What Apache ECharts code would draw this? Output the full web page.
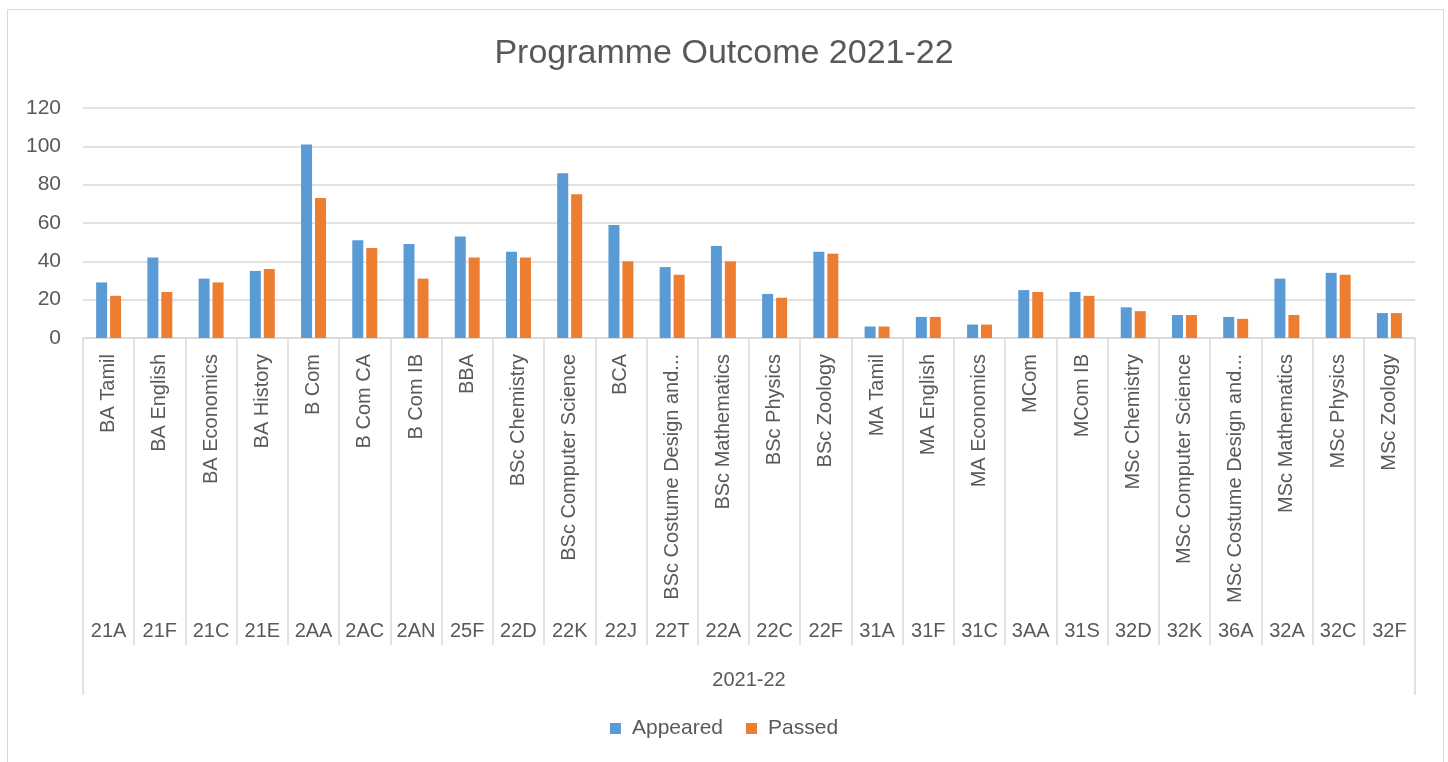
<!DOCTYPE html>
<html>
<head>
<meta charset="utf-8">
<script src="https://cdn.jsdelivr.net/npm/echarts@6/dist/echarts.min.js"></script>
<style>
html,body{margin:0;padding:0;background:#fff;}
#chart{width:1448px;height:762px;}
</style>
</head>
<body>
<div id="chart"></div>
<script>
const programmes = ["BA Tamil","BA English","BA Economics","BA History","B Com","B Com CA","B Com IB","BBA","BSc Chemistry","BSc Computer Science","BCA","BSc Costume Design and Fashion","BSc Mathematics","BSc Physics","BSc Zoology","MA Tamil","MA English","MA Economics","MCom","MCom IB","MSc Chemistry","MSc Computer Science","MSc Costume Design and Fashion","MSc Mathematics","MSc Physics","MSc Zoology"];
const codes = ["21A","21F","21C","21E","2AA","2AC","2AN","25F","22D","22K","22J","22T","22A","22C","22F","31A","31F","31C","3AA","31S","32D","32K","36A","32A","32C","32F"];
const groups = ["2021-22"];
const appeared = [29,42,31,35,101,51,49,53,45,86,59,37,48,23,45,6,11,7,25,24,16,12,11,31,34,13];
const passed =   [22,24,29,36,73,47,31,42,42,75,40,33,40,21,44,6,11,7,24,22,14,12,10,12,33,13];
const yTicks = {min:0, max:120, interval:20};

const FONT = "'Liberation Sans', Arial, sans-serif";
const TXT = '#595959';
const GRID = '#d9d9d9';

const chart = echarts.init(document.getElementById('chart'), null, {renderer:'canvas'});
chart.setOption({
  animation:false,
  backgroundColor:'#fff',
  textStyle:{fontFamily:FONT},
  title:{
    text:'Programme Outcome 2021-22',
    left:'center', top:32,
    textStyle:{fontFamily:FONT, fontSize:34, fontWeight:'normal', color:TXT}
  },
  graphic:[{
    type:'rect', silent:true, z:-1,
    shape:{x:7.5, y:9.5, width:1436, height:770},
    style:{fill:'none', stroke:GRID, lineWidth:1}
  }],
  legend:{
    data:['Appeared','Passed'],
    bottom:18, left:'center',
    icon:'rect', itemWidth:11, itemHeight:11, itemGap:23,
    textStyle:{fontFamily:FONT, fontSize:21, color:TXT, padding:[0,0,0,6]}
  },
  grid:{left:83, right:33, top:108, bottom:424, containLabel:false},
  xAxis:[
    {
      type:'category', data:programmes, position:'bottom',
      axisLine:{show:true, lineStyle:{color:GRID, width:1.5}},
      axisTick:{show:true, interval:0, length:307, lineStyle:{color:GRID, width:1.5}},
      axisLabel:{interval:0, rotate:90, margin:16, fontFamily:FONT, fontSize:20, color:TXT,
                 width:250, overflow:'truncate', ellipsis:'...'},
      splitLine:{show:false}
    },
    {
      type:'category', data:codes, position:'bottom', offset:275,
      axisLine:{show:false}, axisTick:{show:false},
      axisLabel:{interval:0, margin:8, fontFamily:FONT, fontSize:20, color:TXT},
      splitLine:{show:false}
    },
    {
      type:'category', data:groups, position:'bottom',
      axisLine:{show:false},
      axisTick:{show:true, length:357, lineStyle:{color:GRID, width:1.5}},
      axisLabel:{margin:332, fontFamily:FONT, fontSize:20, color:TXT},
      splitLine:{show:false}
    }
  ],
  yAxis:{
    type:'value', min:yTicks.min, max:yTicks.max, interval:yTicks.interval,
    axisLine:{show:false}, axisTick:{show:false},
    axisLabel:{margin:22, fontFamily:FONT, fontSize:21, color:TXT},
    splitLine:{show:true, lineStyle:{color:GRID, width:1.5}}
  },
  series:[
    {name:'Appeared', type:'bar', xAxisIndex:0, data:appeared, barWidth:11, barGap:'27%',
     itemStyle:{color:'#5B9BD5'}},
    {name:'Passed', type:'bar', xAxisIndex:0, data:passed, barWidth:11, barGap:'27%',
     itemStyle:{color:'#ED7D31'}}
  ]
});
</script>
</body>
</html>
